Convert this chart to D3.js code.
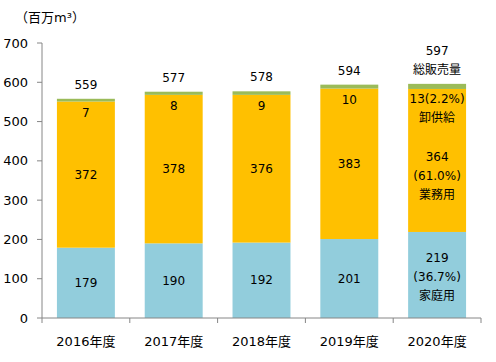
<!DOCTYPE html>
<html>
<head>
<meta charset="utf-8">
<script src="https://cdn.jsdelivr.net/npm/d3@7"></script>
<style>
  body { margin: 0; background: #fff; }
  svg text { font-family: "DejaVu Sans", Verdana, "Noto Sans CJK JP", sans-serif; fill: #000; }
</style>
</head>
<body>
<div id="chart"></div>
<script>
// data
const years = ["2016年度", "2017年度", "2018年度", "2019年度", "2020年度"];
const household = [179, 190, 192, 201, 219];
const business = [372, 378, 376, 383, 364];
const wholesale = [7, 8, 9, 10, 13];
const totals = [559, 577, 578, 594, 597];
const yTicks = [0, 100, 200, 300, 400, 500, 600, 700];

const width = 496, height = 362;
const margin = { top: 43, right: 15, bottom: 44, left: 42 };
const innerW = width - margin.left - margin.right;
const innerH = height - margin.top - margin.bottom;

const svg = d3.select("#chart").append("svg")
    .attr("width", width)
    .attr("height", height);

const g = svg.append("g")
    .attr("transform", `translate(${margin.left},${margin.top})`);

const x = d3.scaleBand().domain(years).range([0, innerW]).paddingInner(0.34).paddingOuter(0.17);
const y = d3.scaleLinear().domain([0, 700]).range([innerH, 0]);

const colors = { household: "#92CDDC", business: "#FFC000", wholesale: "#9BBB59" };

const rows = years.map((yr, i) => ({
    year: yr, household: household[i], business: business[i], wholesale: wholesale[i], total: totals[i]
}));
const stack = d3.stack().keys(["household", "business", "wholesale"])(rows);

g.selectAll(".layer")
    .data(stack)
    .enter().append("g")
    .attr("fill", d => colors[d.key])
    .selectAll("rect")
    .data(d => d)
    .enter().append("rect")
    .attr("x", d => x(d.data.year))
    .attr("y", d => y(d[1]))
    .attr("width", x.bandwidth())
    .attr("height", d => y(d[0]) - y(d[1]));

// axes
const axisColor = "#868686";
g.append("line").attr("x1", 0).attr("x2", 0).attr("y1", 0).attr("y2", innerH)
    .attr("stroke", axisColor);
g.selectAll(".ytick").data(yTicks).enter().append("line")
    .attr("x1", -5).attr("x2", 0)
    .attr("y1", d => y(d)).attr("y2", d => y(d))
    .attr("stroke", axisColor);
g.selectAll(".ylab").data(yTicks).enter().append("text")
    .attr("x", -14).attr("y", d => y(d)).attr("dy", "0.35em")
    .attr("text-anchor", "end").style("font-size", "13px")
    .text(d => d);

g.append("line").attr("x1", 0).attr("x2", innerW).attr("y1", innerH).attr("y2", innerH)
    .attr("stroke", axisColor);
const bounds = years.map(yr => x(yr) - x.step() * x.paddingInner() / 2).concat([innerW]);
bounds[0] = 0;
g.selectAll(".xtick").data(bounds).enter().append("line")
    .attr("x1", d => d).attr("x2", d => d)
    .attr("y1", innerH).attr("y2", innerH + 5)
    .attr("stroke", axisColor);
g.selectAll(".xlab").data(years).enter().append("text")
    .attr("x", d => x(d) + x.bandwidth() / 2)
    .attr("y", innerH + 23).attr("dy", "0.35em")
    .attr("text-anchor", "middle").style("font-size", "13px")
    .text(d => d);

// unit label
svg.append("text").attr("x", 15).attr("y", 22).style("font-size", "13px").text("（百万m³）");

// value labels
const last = years.length - 1;
const fs = "12px";
const cx = d => x(d.year) + x.bandwidth() / 2;

function label(lines, xPos, yCenter) {
    const t = g.append("text").attr("text-anchor", "middle").style("font-size", fs);
    const n = lines.length;
    lines.forEach((s, k) => {
        t.append("tspan").attr("x", xPos)
            .attr("y", yCenter + (k - (n - 1) / 2) * 19)
            .attr("dy", "0.35em").text(s);
    });
}

rows.forEach((d, i) => {
    const xc = cx(d);
    if (i < last) {
        label([String(d.total)], xc, y(d.total) - 14);
        label([String(d.wholesale)], xc, y(d.household + d.business) + 11);
        label([String(d.business)], xc, y(d.household + d.business / 2));
        label([String(d.household)], xc, y(d.household / 2));
    } else {
        const pct = v => (v / d.total * 100).toFixed(1) + "%";
        label([String(d.total), "総販売量"], xc, y(d.total) - 23);
        label([d.wholesale + "(" + pct(d.wholesale) + ")", "卸供給"], xc, y(d.household + d.business) + 19);
        label([String(d.business), "(" + pct(d.business) + ")", "業務用"], xc, y(d.household + d.business / 2) + 15);
        label([String(d.household), "(" + pct(d.household) + ")", "家庭用"], xc, y(d.household / 2) + 2);
    }
});
</script>
</body>
</html>
